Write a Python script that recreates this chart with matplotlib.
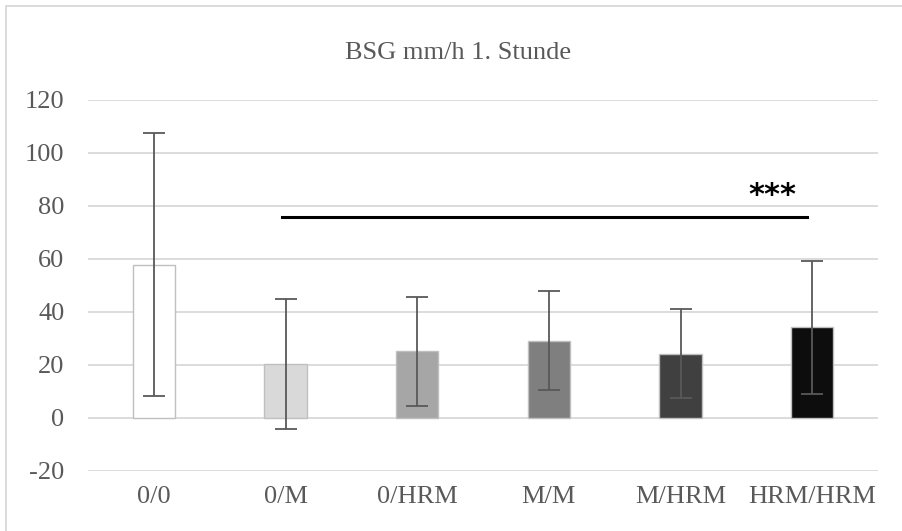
import matplotlib.pyplot as plt
from matplotlib.patches import Rectangle

plt.rcParams['font.family'] = ['Liberation Serif', 'DejaVu Serif']
plt.rcParams['axes.unicode_minus'] = False

groups = ['0/0', '0/M', '0/HRM', 'M/M', 'M/HRM', 'HRM/HRM']
means = [57.9, 20.4, 25.2, 29.2, 24.3, 34.2]
sds = [49.6, 24.6, 20.5, 18.8, 16.7, 25.0]
fills = ['#ffffff', '#d9d9d9', '#a6a6a6', '#7f7f7f', '#404040', '#0d0d0d']
yticks = [-20, 0, 20, 40, 60, 80, 100, 120]
sig_line = (0.97, 4.96, 75.8)   # x from, x to, y
sig_text = '***'

fig = plt.figure(figsize=(9.02, 5.31), dpi=100)
ax = fig.add_axes([0.0976, 0.113, 0.8758, 0.6987])

# grey frame around the whole chart (only left and top visible in the original)
fig.patches.append(Rectangle((6 / 902, -0.1), 1.2, 1 - 6 / 531 + 0.1,
                             transform=fig.transFigure, fill=False,
                             edgecolor='#d9d9d9', linewidth=1.3))

x = range(len(groups))
ax.bar(x, means, width=0.32, color=fills, edgecolor='#bfbfbf', linewidth=1.0, zorder=2)
ax.errorbar(x, means, yerr=sds, fmt='none', ecolor='#595959', elinewidth=1.3,
            capsize=8, capthick=1.3, zorder=3)

ax.plot([sig_line[0], sig_line[1]], [sig_line[2], sig_line[2]], color='black', linewidth=2.2, zorder=4)
ax.text(4.7, 78.3, sig_text, ha='center', va='bottom', fontsize=22,
        family=['DejaVu Sans'], fontweight='bold', color='black')

ax.set_xlim(-0.5, len(groups) - 0.5)
ax.set_ylim(-20, 120)
ax.set_yticks(yticks)
ax.set_xticks(list(x))
ax.set_xticklabels(groups)
ax.yaxis.grid(True, color='#d9d9d9', linewidth=1.3)
ax.set_axisbelow(True)
for s in ax.spines.values():
    s.set_visible(False)
ax.tick_params(length=0, labelsize=19, labelcolor='#595959', pad=17)
ax.tick_params(axis='x', pad=11)

fig.text(0.508, 0.9, 'BSG mm/h 1. Stunde', ha='center', va='center', fontsize=19, color='#595959')

fig.savefig('out.png', dpi=100)
